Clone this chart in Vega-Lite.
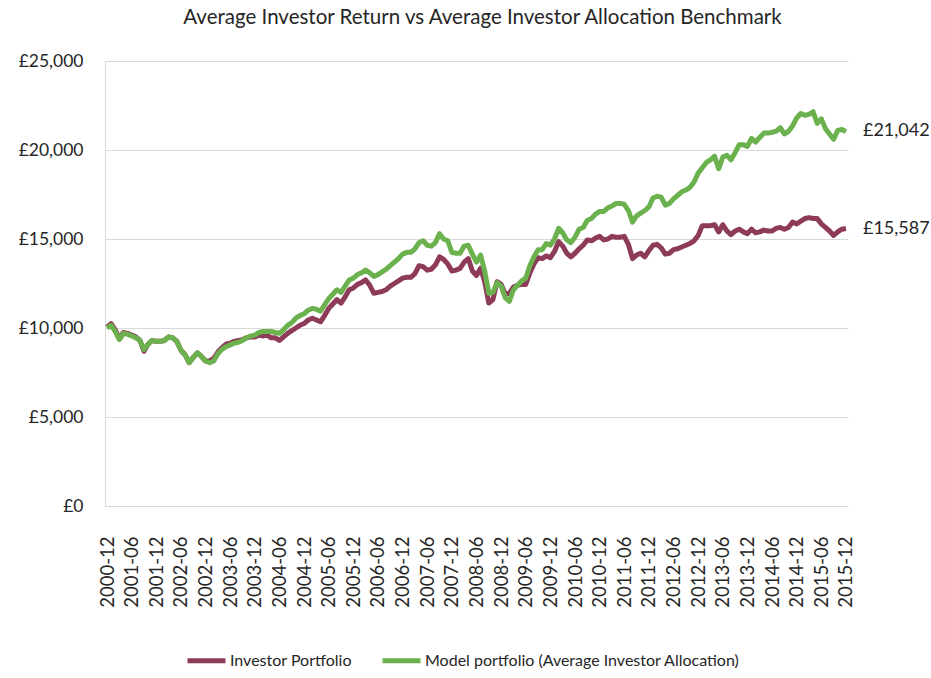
{
  "$schema": "https://vega.github.io/schema/vega-lite/v6.json",
  "width": 743,
  "height": 445,
  "autosize": {"type": "none"},
  "padding": {"left": 105, "top": 61, "right": 83, "bottom": 172},
  "background": "white",
  "config": {"font": "Lato", "view": {"stroke": null}},
  "title": {"text": "Average Investor Return vs Average Investor Allocation Benchmark", "fontSize": 20.5, "fontWeight": "normal", "color": "#262626", "anchor": "middle", "offset": 24, "dx": 6},
  "data": {"values": [
    {"month": "2000-12", "Investor Portfolio": 10050, "Model portfolio (Average Investor Allocation)": 10000},
    {"month": "2001-01", "Investor Portfolio": 10250, "Model portfolio (Average Investor Allocation)": 10150},
    {"month": "2001-02", "Investor Portfolio": 9900, "Model portfolio (Average Investor Allocation)": 9800},
    {"month": "2001-03", "Investor Portfolio": 9400, "Model portfolio (Average Investor Allocation)": 9350},
    {"month": "2001-04", "Investor Portfolio": 9750, "Model portfolio (Average Investor Allocation)": 9700},
    {"month": "2001-05", "Investor Portfolio": 9700, "Model portfolio (Average Investor Allocation)": 9650},
    {"month": "2001-06", "Investor Portfolio": 9600, "Model portfolio (Average Investor Allocation)": 9550},
    {"month": "2001-07", "Investor Portfolio": 9500, "Model portfolio (Average Investor Allocation)": 9450},
    {"month": "2001-08", "Investor Portfolio": 9300, "Model portfolio (Average Investor Allocation)": 9300},
    {"month": "2001-09", "Investor Portfolio": 8700, "Model portfolio (Average Investor Allocation)": 8800},
    {"month": "2001-10", "Investor Portfolio": 9100, "Model portfolio (Average Investor Allocation)": 9100},
    {"month": "2001-11", "Investor Portfolio": 9300, "Model portfolio (Average Investor Allocation)": 9300},
    {"month": "2001-12", "Investor Portfolio": 9250, "Model portfolio (Average Investor Allocation)": 9250},
    {"month": "2002-01", "Investor Portfolio": 9250, "Model portfolio (Average Investor Allocation)": 9250},
    {"month": "2002-02", "Investor Portfolio": 9300, "Model portfolio (Average Investor Allocation)": 9300},
    {"month": "2002-03", "Investor Portfolio": 9500, "Model portfolio (Average Investor Allocation)": 9500},
    {"month": "2002-04", "Investor Portfolio": 9450, "Model portfolio (Average Investor Allocation)": 9450},
    {"month": "2002-05", "Investor Portfolio": 9250, "Model portfolio (Average Investor Allocation)": 9250},
    {"month": "2002-06", "Investor Portfolio": 8750, "Model portfolio (Average Investor Allocation)": 8750},
    {"month": "2002-07", "Investor Portfolio": 8500, "Model portfolio (Average Investor Allocation)": 8500},
    {"month": "2002-08", "Investor Portfolio": 8050, "Model portfolio (Average Investor Allocation)": 8050},
    {"month": "2002-09", "Investor Portfolio": 8350, "Model portfolio (Average Investor Allocation)": 8350},
    {"month": "2002-10", "Investor Portfolio": 8600, "Model portfolio (Average Investor Allocation)": 8600},
    {"month": "2002-11", "Investor Portfolio": 8400, "Model portfolio (Average Investor Allocation)": 8400},
    {"month": "2002-12", "Investor Portfolio": 8150, "Model portfolio (Average Investor Allocation)": 8150},
    {"month": "2003-01", "Investor Portfolio": 8150, "Model portfolio (Average Investor Allocation)": 8050},
    {"month": "2003-02", "Investor Portfolio": 8300, "Model portfolio (Average Investor Allocation)": 8150},
    {"month": "2003-03", "Investor Portfolio": 8650, "Model portfolio (Average Investor Allocation)": 8550},
    {"month": "2003-04", "Investor Portfolio": 8900, "Model portfolio (Average Investor Allocation)": 8800},
    {"month": "2003-05", "Investor Portfolio": 9100, "Model portfolio (Average Investor Allocation)": 8950},
    {"month": "2003-06", "Investor Portfolio": 9150, "Model portfolio (Average Investor Allocation)": 9050},
    {"month": "2003-07", "Investor Portfolio": 9250, "Model portfolio (Average Investor Allocation)": 9150},
    {"month": "2003-08", "Investor Portfolio": 9300, "Model portfolio (Average Investor Allocation)": 9200},
    {"month": "2003-09", "Investor Portfolio": 9350, "Model portfolio (Average Investor Allocation)": 9300},
    {"month": "2003-10", "Investor Portfolio": 9450, "Model portfolio (Average Investor Allocation)": 9450},
    {"month": "2003-11", "Investor Portfolio": 9500, "Model portfolio (Average Investor Allocation)": 9550},
    {"month": "2003-12", "Investor Portfolio": 9500, "Model portfolio (Average Investor Allocation)": 9600},
    {"month": "2004-01", "Investor Portfolio": 9600, "Model portfolio (Average Investor Allocation)": 9750},
    {"month": "2004-02", "Investor Portfolio": 9550, "Model portfolio (Average Investor Allocation)": 9800},
    {"month": "2004-03", "Investor Portfolio": 9600, "Model portfolio (Average Investor Allocation)": 9800},
    {"month": "2004-04", "Investor Portfolio": 9450, "Model portfolio (Average Investor Allocation)": 9800},
    {"month": "2004-05", "Investor Portfolio": 9450, "Model portfolio (Average Investor Allocation)": 9750},
    {"month": "2004-06", "Investor Portfolio": 9300, "Model portfolio (Average Investor Allocation)": 9700},
    {"month": "2004-07", "Investor Portfolio": 9500, "Model portfolio (Average Investor Allocation)": 9900},
    {"month": "2004-08", "Investor Portfolio": 9700, "Model portfolio (Average Investor Allocation)": 10150},
    {"month": "2004-09", "Investor Portfolio": 9850, "Model portfolio (Average Investor Allocation)": 10300},
    {"month": "2004-10", "Investor Portfolio": 10000, "Model portfolio (Average Investor Allocation)": 10550},
    {"month": "2004-11", "Investor Portfolio": 10150, "Model portfolio (Average Investor Allocation)": 10700},
    {"month": "2004-12", "Investor Portfolio": 10250, "Model portfolio (Average Investor Allocation)": 10800},
    {"month": "2005-01", "Investor Portfolio": 10450, "Model portfolio (Average Investor Allocation)": 11000},
    {"month": "2005-02", "Investor Portfolio": 10550, "Model portfolio (Average Investor Allocation)": 11100},
    {"month": "2005-03", "Investor Portfolio": 10450, "Model portfolio (Average Investor Allocation)": 11050},
    {"month": "2005-04", "Investor Portfolio": 10350, "Model portfolio (Average Investor Allocation)": 10950},
    {"month": "2005-05", "Investor Portfolio": 10700, "Model portfolio (Average Investor Allocation)": 11300},
    {"month": "2005-06", "Investor Portfolio": 11100, "Model portfolio (Average Investor Allocation)": 11650},
    {"month": "2005-07", "Investor Portfolio": 11350, "Model portfolio (Average Investor Allocation)": 11900},
    {"month": "2005-08", "Investor Portfolio": 11600, "Model portfolio (Average Investor Allocation)": 12150},
    {"month": "2005-09", "Investor Portfolio": 11400, "Model portfolio (Average Investor Allocation)": 12000},
    {"month": "2005-10", "Investor Portfolio": 11750, "Model portfolio (Average Investor Allocation)": 12350},
    {"month": "2005-11", "Investor Portfolio": 12150, "Model portfolio (Average Investor Allocation)": 12700},
    {"month": "2005-12", "Investor Portfolio": 12250, "Model portfolio (Average Investor Allocation)": 12800},
    {"month": "2006-01", "Investor Portfolio": 12450, "Model portfolio (Average Investor Allocation)": 13000},
    {"month": "2006-02", "Investor Portfolio": 12550, "Model portfolio (Average Investor Allocation)": 13100},
    {"month": "2006-03", "Investor Portfolio": 12700, "Model portfolio (Average Investor Allocation)": 13250},
    {"month": "2006-04", "Investor Portfolio": 12400, "Model portfolio (Average Investor Allocation)": 13100},
    {"month": "2006-05", "Investor Portfolio": 11950, "Model portfolio (Average Investor Allocation)": 12900},
    {"month": "2006-06", "Investor Portfolio": 12000, "Model portfolio (Average Investor Allocation)": 13000},
    {"month": "2006-07", "Investor Portfolio": 12050, "Model portfolio (Average Investor Allocation)": 13150},
    {"month": "2006-08", "Investor Portfolio": 12150, "Model portfolio (Average Investor Allocation)": 13300},
    {"month": "2006-09", "Investor Portfolio": 12350, "Model portfolio (Average Investor Allocation)": 13500},
    {"month": "2006-10", "Investor Portfolio": 12500, "Model portfolio (Average Investor Allocation)": 13700},
    {"month": "2006-11", "Investor Portfolio": 12650, "Model portfolio (Average Investor Allocation)": 13900},
    {"month": "2006-12", "Investor Portfolio": 12800, "Model portfolio (Average Investor Allocation)": 14150},
    {"month": "2007-01", "Investor Portfolio": 12850, "Model portfolio (Average Investor Allocation)": 14250},
    {"month": "2007-02", "Investor Portfolio": 12850, "Model portfolio (Average Investor Allocation)": 14250},
    {"month": "2007-03", "Investor Portfolio": 13050, "Model portfolio (Average Investor Allocation)": 14450},
    {"month": "2007-04", "Investor Portfolio": 13500, "Model portfolio (Average Investor Allocation)": 14800},
    {"month": "2007-05", "Investor Portfolio": 13450, "Model portfolio (Average Investor Allocation)": 14900},
    {"month": "2007-06", "Investor Portfolio": 13250, "Model portfolio (Average Investor Allocation)": 14650},
    {"month": "2007-07", "Investor Portfolio": 13300, "Model portfolio (Average Investor Allocation)": 14600},
    {"month": "2007-08", "Investor Portfolio": 13550, "Model portfolio (Average Investor Allocation)": 14800},
    {"month": "2007-09", "Investor Portfolio": 14000, "Model portfolio (Average Investor Allocation)": 15300},
    {"month": "2007-10", "Investor Portfolio": 13850, "Model portfolio (Average Investor Allocation)": 15000},
    {"month": "2007-11", "Investor Portfolio": 13600, "Model portfolio (Average Investor Allocation)": 14900},
    {"month": "2007-12", "Investor Portfolio": 13200, "Model portfolio (Average Investor Allocation)": 14250},
    {"month": "2008-01", "Investor Portfolio": 13250, "Model portfolio (Average Investor Allocation)": 14200},
    {"month": "2008-02", "Investor Portfolio": 13350, "Model portfolio (Average Investor Allocation)": 14200},
    {"month": "2008-03", "Investor Portfolio": 13700, "Model portfolio (Average Investor Allocation)": 14600},
    {"month": "2008-04", "Investor Portfolio": 13900, "Model portfolio (Average Investor Allocation)": 14650},
    {"month": "2008-05", "Investor Portfolio": 13200, "Model portfolio (Average Investor Allocation)": 14150},
    {"month": "2008-06", "Investor Portfolio": 12950, "Model portfolio (Average Investor Allocation)": 13700},
    {"month": "2008-07", "Investor Portfolio": 13350, "Model portfolio (Average Investor Allocation)": 14100},
    {"month": "2008-08", "Investor Portfolio": 12600, "Model portfolio (Average Investor Allocation)": 13200},
    {"month": "2008-09", "Investor Portfolio": 11400, "Model portfolio (Average Investor Allocation)": 11950},
    {"month": "2008-10", "Investor Portfolio": 11600, "Model portfolio (Average Investor Allocation)": 12000},
    {"month": "2008-11", "Investor Portfolio": 12600, "Model portfolio (Average Investor Allocation)": 12550},
    {"month": "2008-12", "Investor Portfolio": 12450, "Model portfolio (Average Investor Allocation)": 12350},
    {"month": "2009-01", "Investor Portfolio": 11900, "Model portfolio (Average Investor Allocation)": 11700},
    {"month": "2009-02", "Investor Portfolio": 11950, "Model portfolio (Average Investor Allocation)": 11500},
    {"month": "2009-03", "Investor Portfolio": 12300, "Model portfolio (Average Investor Allocation)": 12150},
    {"month": "2009-04", "Investor Portfolio": 12400, "Model portfolio (Average Investor Allocation)": 12400},
    {"month": "2009-05", "Investor Portfolio": 12450, "Model portfolio (Average Investor Allocation)": 12650},
    {"month": "2009-06", "Investor Portfolio": 12450, "Model portfolio (Average Investor Allocation)": 12800},
    {"month": "2009-07", "Investor Portfolio": 13100, "Model portfolio (Average Investor Allocation)": 13500},
    {"month": "2009-08", "Investor Portfolio": 13600, "Model portfolio (Average Investor Allocation)": 14000},
    {"month": "2009-09", "Investor Portfolio": 13950, "Model portfolio (Average Investor Allocation)": 14400},
    {"month": "2009-10", "Investor Portfolio": 13900, "Model portfolio (Average Investor Allocation)": 14400},
    {"month": "2009-11", "Investor Portfolio": 14050, "Model portfolio (Average Investor Allocation)": 14750},
    {"month": "2009-12", "Investor Portfolio": 13950, "Model portfolio (Average Investor Allocation)": 14650},
    {"month": "2010-01", "Investor Portfolio": 14300, "Model portfolio (Average Investor Allocation)": 15000},
    {"month": "2010-02", "Investor Portfolio": 14850, "Model portfolio (Average Investor Allocation)": 15600},
    {"month": "2010-03", "Investor Portfolio": 14600, "Model portfolio (Average Investor Allocation)": 15350},
    {"month": "2010-04", "Investor Portfolio": 14200, "Model portfolio (Average Investor Allocation)": 14950},
    {"month": "2010-05", "Investor Portfolio": 14000, "Model portfolio (Average Investor Allocation)": 14800},
    {"month": "2010-06", "Investor Portfolio": 14200, "Model portfolio (Average Investor Allocation)": 15100},
    {"month": "2010-07", "Investor Portfolio": 14450, "Model portfolio (Average Investor Allocation)": 15550},
    {"month": "2010-08", "Investor Portfolio": 14650, "Model portfolio (Average Investor Allocation)": 15650},
    {"month": "2010-09", "Investor Portfolio": 14950, "Model portfolio (Average Investor Allocation)": 16050},
    {"month": "2010-10", "Investor Portfolio": 14900, "Model portfolio (Average Investor Allocation)": 16150},
    {"month": "2010-11", "Investor Portfolio": 15050, "Model portfolio (Average Investor Allocation)": 16400},
    {"month": "2010-12", "Investor Portfolio": 15150, "Model portfolio (Average Investor Allocation)": 16550},
    {"month": "2011-01", "Investor Portfolio": 14950, "Model portfolio (Average Investor Allocation)": 16550},
    {"month": "2011-02", "Investor Portfolio": 15000, "Model portfolio (Average Investor Allocation)": 16750},
    {"month": "2011-03", "Investor Portfolio": 15150, "Model portfolio (Average Investor Allocation)": 16850},
    {"month": "2011-04", "Investor Portfolio": 15100, "Model portfolio (Average Investor Allocation)": 17000},
    {"month": "2011-05", "Investor Portfolio": 15100, "Model portfolio (Average Investor Allocation)": 17000},
    {"month": "2011-06", "Investor Portfolio": 15150, "Model portfolio (Average Investor Allocation)": 16950},
    {"month": "2011-07", "Investor Portfolio": 14700, "Model portfolio (Average Investor Allocation)": 16600},
    {"month": "2011-08", "Investor Portfolio": 13900, "Model portfolio (Average Investor Allocation)": 15950},
    {"month": "2011-09", "Investor Portfolio": 14100, "Model portfolio (Average Investor Allocation)": 16300},
    {"month": "2011-10", "Investor Portfolio": 14200, "Model portfolio (Average Investor Allocation)": 16450},
    {"month": "2011-11", "Investor Portfolio": 14000, "Model portfolio (Average Investor Allocation)": 16600},
    {"month": "2011-12", "Investor Portfolio": 14350, "Model portfolio (Average Investor Allocation)": 16800},
    {"month": "2012-01", "Investor Portfolio": 14650, "Model portfolio (Average Investor Allocation)": 17300},
    {"month": "2012-02", "Investor Portfolio": 14700, "Model portfolio (Average Investor Allocation)": 17400},
    {"month": "2012-03", "Investor Portfolio": 14500, "Model portfolio (Average Investor Allocation)": 17350},
    {"month": "2012-04", "Investor Portfolio": 14150, "Model portfolio (Average Investor Allocation)": 16900},
    {"month": "2012-05", "Investor Portfolio": 14200, "Model portfolio (Average Investor Allocation)": 17000},
    {"month": "2012-06", "Investor Portfolio": 14400, "Model portfolio (Average Investor Allocation)": 17250},
    {"month": "2012-07", "Investor Portfolio": 14450, "Model portfolio (Average Investor Allocation)": 17450},
    {"month": "2012-08", "Investor Portfolio": 14550, "Model portfolio (Average Investor Allocation)": 17650},
    {"month": "2012-09", "Investor Portfolio": 14650, "Model portfolio (Average Investor Allocation)": 17750},
    {"month": "2012-10", "Investor Portfolio": 14750, "Model portfolio (Average Investor Allocation)": 17900},
    {"month": "2012-11", "Investor Portfolio": 14900, "Model portfolio (Average Investor Allocation)": 18200},
    {"month": "2012-12", "Investor Portfolio": 15200, "Model portfolio (Average Investor Allocation)": 18700},
    {"month": "2013-01", "Investor Portfolio": 15750, "Model portfolio (Average Investor Allocation)": 19000},
    {"month": "2013-02", "Investor Portfolio": 15750, "Model portfolio (Average Investor Allocation)": 19300},
    {"month": "2013-03", "Investor Portfolio": 15750, "Model portfolio (Average Investor Allocation)": 19450},
    {"month": "2013-04", "Investor Portfolio": 15800, "Model portfolio (Average Investor Allocation)": 19650},
    {"month": "2013-05", "Investor Portfolio": 15400, "Model portfolio (Average Investor Allocation)": 18950},
    {"month": "2013-06", "Investor Portfolio": 15800, "Model portfolio (Average Investor Allocation)": 19600},
    {"month": "2013-07", "Investor Portfolio": 15450, "Model portfolio (Average Investor Allocation)": 19700},
    {"month": "2013-08", "Investor Portfolio": 15250, "Model portfolio (Average Investor Allocation)": 19450},
    {"month": "2013-09", "Investor Portfolio": 15450, "Model portfolio (Average Investor Allocation)": 19850},
    {"month": "2013-10", "Investor Portfolio": 15550, "Model portfolio (Average Investor Allocation)": 20300},
    {"month": "2013-11", "Investor Portfolio": 15400, "Model portfolio (Average Investor Allocation)": 20300},
    {"month": "2013-12", "Investor Portfolio": 15300, "Model portfolio (Average Investor Allocation)": 20200},
    {"month": "2014-01", "Investor Portfolio": 15550, "Model portfolio (Average Investor Allocation)": 20650},
    {"month": "2014-02", "Investor Portfolio": 15350, "Model portfolio (Average Investor Allocation)": 20450},
    {"month": "2014-03", "Investor Portfolio": 15400, "Model portfolio (Average Investor Allocation)": 20700},
    {"month": "2014-04", "Investor Portfolio": 15500, "Model portfolio (Average Investor Allocation)": 20950},
    {"month": "2014-05", "Investor Portfolio": 15450, "Model portfolio (Average Investor Allocation)": 20950},
    {"month": "2014-06", "Investor Portfolio": 15450, "Model portfolio (Average Investor Allocation)": 21000},
    {"month": "2014-07", "Investor Portfolio": 15600, "Model portfolio (Average Investor Allocation)": 21050},
    {"month": "2014-08", "Investor Portfolio": 15650, "Model portfolio (Average Investor Allocation)": 21250},
    {"month": "2014-09", "Investor Portfolio": 15550, "Model portfolio (Average Investor Allocation)": 20900},
    {"month": "2014-10", "Investor Portfolio": 15650, "Model portfolio (Average Investor Allocation)": 21050},
    {"month": "2014-11", "Investor Portfolio": 15950, "Model portfolio (Average Investor Allocation)": 21350},
    {"month": "2014-12", "Investor Portfolio": 15850, "Model portfolio (Average Investor Allocation)": 21800},
    {"month": "2015-01", "Investor Portfolio": 16000, "Model portfolio (Average Investor Allocation)": 22050},
    {"month": "2015-02", "Investor Portfolio": 16150, "Model portfolio (Average Investor Allocation)": 21950},
    {"month": "2015-03", "Investor Portfolio": 16200, "Model portfolio (Average Investor Allocation)": 22000},
    {"month": "2015-04", "Investor Portfolio": 16150, "Model portfolio (Average Investor Allocation)": 22150},
    {"month": "2015-05", "Investor Portfolio": 16150, "Model portfolio (Average Investor Allocation)": 21500},
    {"month": "2015-06", "Investor Portfolio": 15850, "Model portfolio (Average Investor Allocation)": 21750},
    {"month": "2015-07", "Investor Portfolio": 15650, "Model portfolio (Average Investor Allocation)": 21200},
    {"month": "2015-08", "Investor Portfolio": 15450, "Model portfolio (Average Investor Allocation)": 20900},
    {"month": "2015-09", "Investor Portfolio": 15200, "Model portfolio (Average Investor Allocation)": 20600},
    {"month": "2015-10", "Investor Portfolio": 15400, "Model portfolio (Average Investor Allocation)": 21100},
    {"month": "2015-11", "Investor Portfolio": 15550, "Model portfolio (Average Investor Allocation)": 21150},
    {"month": "2015-12", "Investor Portfolio": 15587, "Model portfolio (Average Investor Allocation)": 21042}
  ]},
  "transform": [
    {"fold": ["Investor Portfolio", "Model portfolio (Average Investor Allocation)"], "as": ["series", "value"]}
  ],
  "encoding": {
    "x": {
      "field": "month", "type": "ordinal", "sort": null,
      "scale": {"type": "point", "padding": 0.5},
      "axis": {
        "title": null,
        "values": ["2000-12","2001-06","2001-12","2002-06","2002-12","2003-06","2003-12","2004-06","2004-12","2005-06","2005-12","2006-06","2006-12","2007-06","2007-12","2008-06","2008-12","2009-06","2009-12","2010-06","2010-12","2011-06","2011-12","2012-06","2012-12","2013-06","2013-12","2014-06","2014-12","2015-06","2015-12"],
        "labelAngle": -90, "labelAlign": "right", "labelBaseline": "middle",
        "labelFontSize": 18.5, "labelColor": "#262626", "labelPadding": 30,
        "ticks": false, "grid": false, "domainColor": "#d9d9d9", "labelOverlap": false
      }
    },
    "y": {
      "field": "value", "type": "quantitative",
      "scale": {"domain": [0, 25000]},
      "axis": {
        "title": null,
        "values": [0, 5000, 10000, 15000, 20000, 25000],
        "labelExpr": "'£' + format(datum.value, ',')",
        "labelFontSize": 17.5, "labelColor": "#262626", "labelPadding": 22,
        "ticks": false, "grid": true, "gridColor": "#d9d9d9", "domainColor": "#d9d9d9"
      }
    }
  },
  "layer": [
    {
      "mark": {"type": "line", "strokeWidth": 5, "strokeJoin": "round"},
      "encoding": {
        "color": {
          "field": "series", "type": "nominal",
          "scale": {"domain": ["Investor Portfolio", "Model portfolio (Average Investor Allocation)"], "range": ["#8E3A59", "#6BB24F"]},
          "legend": {
            "title": null, "orient": "none", "legendX": 80, "legendY": 578,
            "direction": "horizontal", "symbolType": "stroke", "symbolSize": 1444,
            "symbolStrokeWidth": 5, "labelFontSize": 16, "labelColor": "#262626",
            "columnPadding": 20, "labelOffset": 2, "labelLimit": 400
          }
        }
      }
    },
    {
      "transform": [
        {"filter": "datum.month === '2015-12'"},
        {"calculate": "'£' + format(datum.value, ',')", "as": "label"}
      ],
      "mark": {"type": "text", "align": "left", "baseline": "middle", "dx": 17, "fontSize": 18, "color": "#262626"},
      "encoding": {"text": {"field": "label", "type": "nominal"}}
    }
  ]
}
